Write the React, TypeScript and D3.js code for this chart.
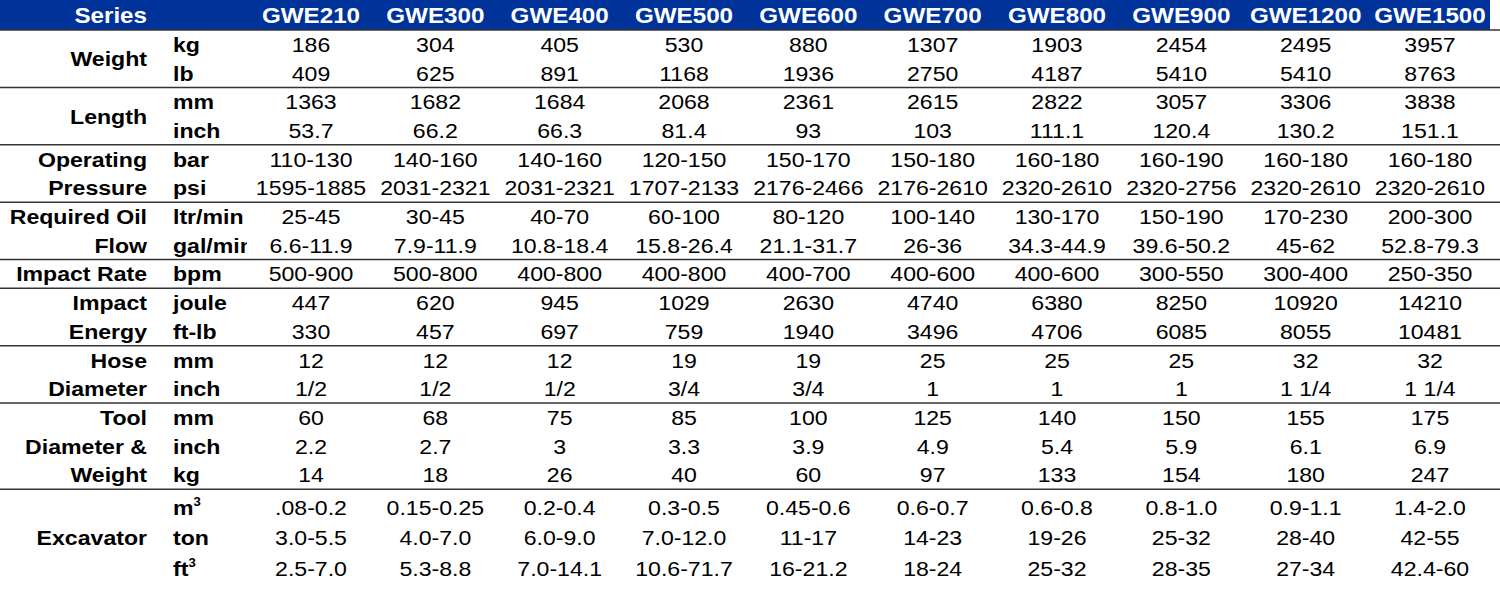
import * as d3 from 'd3';

const series = ['GWE210', 'GWE300', 'GWE400', 'GWE500', 'GWE600', 'GWE700', 'GWE800', 'GWE900', 'GWE1200', 'GWE1500'];

const weightKg = ['186', '304', '405', '530', '880', '1307', '1903', '2454', '2495', '3957'];
const weightLb = ['409', '625', '891', '1168', '1936', '2750', '4187', '5410', '5410', '8763'];
const lengthMm = ['1363', '1682', '1684', '2068', '2361', '2615', '2822', '3057', '3306', '3838'];
const lengthInch = ['53.7', '66.2', '66.3', '81.4', '93', '103', '111.1', '120.4', '130.2', '151.1'];
const pressureBar = ['110-130', '140-160', '140-160', '120-150', '150-170', '150-180', '160-180', '160-190', '160-180', '160-180'];
const pressurePsi = ['1595-1885', '2031-2321', '2031-2321', '1707-2133', '2176-2466', '2176-2610', '2320-2610', '2320-2756', '2320-2610', '2320-2610'];
const flowLtr = ['25-45', '30-45', '40-70', '60-100', '80-120', '100-140', '130-170', '150-190', '170-230', '200-300'];
const flowGal = ['6.6-11.9', '7.9-11.9', '10.8-18.4', '15.8-26.4', '21.1-31.7', '26-36', '34.3-44.9', '39.6-50.2', '45-62', '52.8-79.3'];
const impactBpm = ['500-900', '500-800', '400-800', '400-800', '400-700', '400-600', '400-600', '300-550', '300-400', '250-350'];
const energyJoule = ['447', '620', '945', '1029', '2630', '4740', '6380', '8250', '10920', '14210'];
const energyFtLb = ['330', '457', '697', '759', '1940', '3496', '4706', '6085', '8055', '10481'];
const hoseMm = ['12', '12', '12', '19', '19', '25', '25', '25', '32', '32'];
const hoseInch = ['1/2', '1/2', '1/2', '3/4', '3/4', '1', '1', '1', '1 1/4', '1 1/4'];
const toolMm = ['60', '68', '75', '85', '100', '125', '140', '150', '155', '175'];
const toolInch = ['2.2', '2.7', '3', '3.3', '3.9', '4.9', '5.4', '5.9', '6.1', '6.9'];
const toolKg = ['14', '18', '26', '40', '60', '97', '133', '154', '180', '247'];
const excM3 = ['.08-0.2', '0.15-0.25', '0.2-0.4', '0.3-0.5', '0.45-0.6', '0.6-0.7', '0.6-0.8', '0.8-1.0', '0.9-1.1', '1.4-2.0'];
const excTon = ['3.0-5.5', '4.0-7.0', '6.0-9.0', '7.0-12.0', '11-17', '14-23', '19-26', '25-32', '28-40', '42-55'];
const excFt3 = ['2.5-7.0', '5.3-8.8', '7.0-14.1', '10.6-71.7', '16-21.2', '18-24', '25-32', '28-35', '27-34', '42.4-60'];

type Group = { label: string[]; units: string[]; rows: string[][]; rowH?: number; pad?: number };

const groups: Group[] = [
  { label: ['Weight'], units: ['kg', 'lb'], rows: [weightKg, weightLb] },
  { label: ['Length'], units: ['mm', 'inch'], rows: [lengthMm, lengthInch] },
  { label: ['Operating', 'Pressure'], units: ['bar', 'psi'], rows: [pressureBar, pressurePsi] },
  { label: ['Required Oil', 'Flow'], units: ['ltr/min', 'gal/min'], rows: [flowLtr, flowGal] },
  { label: ['Impact Rate'], units: ['bpm'], rows: [impactBpm] },
  { label: ['Impact', 'Energy'], units: ['joule', 'ft-lb'], rows: [energyJoule, energyFtLb] },
  { label: ['Hose', 'Diameter'], units: ['mm', 'inch'], rows: [hoseMm, hoseInch] },
  { label: ['Tool', 'Diameter &', 'Weight'], units: ['mm', 'inch', 'kg'], rows: [toolMm, toolInch, toolKg] },
  { label: ['Excavator'], units: ['m^3', 'ton', 'ft^3'], rows: [excM3, excTon, excFt3], rowH: 30.5, pad: 2.75 }
];

const W = 1500;
const H = 591;
const headerH = 30;
const rowH = 28.7;
const labelX = 147;
const unitX = 173;
const fontSize = 21;
const stretch = 1.1;
const blue = '#003399';
const font = '"Liberation Sans", Arial, sans-serif';

function Txt({ x, y, anchor = 'middle', bold = false, fill = '#000', size = fontSize, clip, children }: any) {
  return (
    <text
      transform={`translate(${x},${y}) scale(${stretch},1)`}
      textAnchor={anchor}
      fontWeight={bold ? 'bold' : 'normal'}
      fill={fill}
      fontSize={size}
      clipPath={clip}
    >
      {children}
    </text>
  );
}

function unitText(u: string) {
  if (u.endsWith('^3')) {
    return (
      <>
        {u.slice(0, -2)}
        <tspan dy={-9} fontSize={12}>3</tspan>
      </>
    );
  }
  return u;
}

export default function App() {
  const x = d3.scalePoint<string>().domain(series).range([311, 1430]);

  // stack the groups top to bottom
  let top = headerH;
  const layout = groups.map((g) => {
    const h = g.rowH ?? rowH;
    const pad = g.pad ?? 0;
    const y = d3.scaleLinear().domain([0, 1]).range([top + pad + h / 2, top + pad + h / 2 + h]);
    const bottom = top + pad * 2 + h * g.rows.length;
    const item = { g, y, top, bottom };
    top = bottom;
    return item;
  });

  const base = 7.5;

  return (
    <svg width={W} height={H} style={{ position: 'absolute', left: 0, top: 0, fontFamily: font }}>
      <defs>
        <clipPath id="unitClip">
          <rect x={-20} y={-40} width={(247 - unitX) / stretch + 20} height={80} />
        </clipPath>
      </defs>
      <rect x={0} y={0} width={W} height={H} fill="#fff" />
      <rect x={0} y={0} width={1490} height={headerH} fill={blue} />
      <line x1={0} x2={W} y1={headerH} y2={headerH} stroke="#333" strokeWidth={1.5} />
      <Txt x={labelX} y={23} anchor="end" bold fill="#fff" size={22}>Series</Txt>
      {series.map((s) => (
        <Txt key={s} x={x(s)!} y={23} bold fill="#fff" size={22}>{s}</Txt>
      ))}

      {layout.map(({ g, y, bottom }, gi) => {
        const n = g.rows.length;
        const mid = (n - 1) / 2;
        const labelStart = mid - (g.label.length - 1) / 2;
        return (
          <g key={gi}>
            {g.label.map((l, li) => (
              <Txt key={l} x={labelX} y={y(labelStart + li) + base} anchor="end" bold>{l}</Txt>
            ))}
            {g.units.map((u, ui) => (
              <Txt key={u} x={unitX} y={y(ui) + base} anchor="start" bold clip={u === 'gal/min' ? 'url(#unitClip)' : undefined}>
                {unitText(u)}
              </Txt>
            ))}
            {g.rows.map((vals, ri) =>
              vals.map((v, ci) => (
                <Txt key={`${ri}-${ci}`} x={x(series[ci])!} y={y(ri) + base}>{v}</Txt>
              ))
            )}
            {gi < layout.length - 1 && (
              <line x1={0} x2={W} y1={bottom} y2={bottom} stroke="#333" strokeWidth={1.5} />
            )}
          </g>
        );
      })}
    </svg>
  );
}
